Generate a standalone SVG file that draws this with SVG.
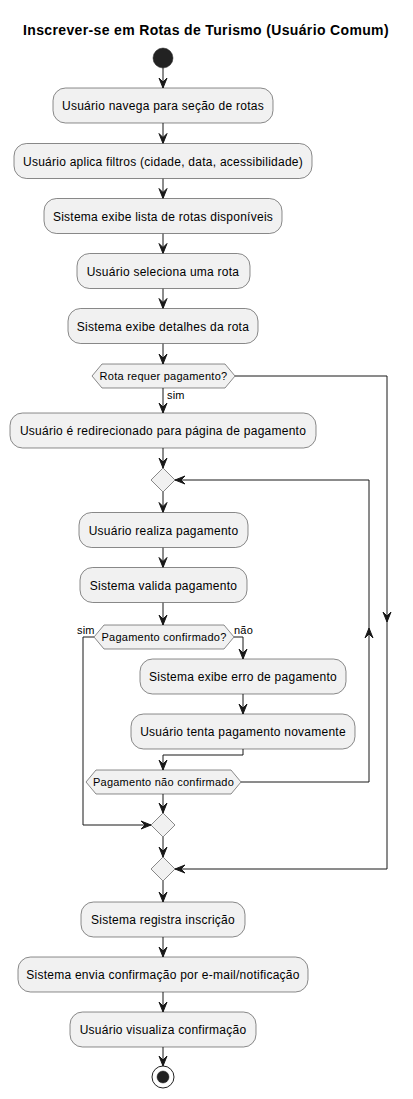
<svg xmlns="http://www.w3.org/2000/svg" width="413" height="1099" viewBox="0 0 413 1099">
<style>
.bg{fill:#FFFFFF}
.box{fill:#F1F1F1;stroke:#181818;stroke-width:0.5}
.t{font-family:"Liberation Sans",Arial,sans-serif;font-size:12px;letter-spacing:0.25px;fill:#000000;text-anchor:middle}
.ht{font-family:"Liberation Sans",Arial,sans-serif;font-size:11px;letter-spacing:0.25px;fill:#000000;text-anchor:middle}
.lbl{font-family:"Liberation Sans",Arial,sans-serif;font-size:11px;letter-spacing:0.2px;fill:#000000}
.title{font-family:"Liberation Sans",Arial,sans-serif;font-size:14px;font-weight:bold;letter-spacing:0.35px;fill:#000000;text-anchor:middle}
.ln{fill:none;stroke:#181818;stroke-width:1}
.ar{fill:none;stroke:#181818;stroke-width:1;marker-end:url(#ah)}
</style>
<defs>
<marker id="ah" viewBox="-11 -5 12 10" refX="0" refY="0" markerWidth="12" markerHeight="10" markerUnits="userSpaceOnUse" orient="auto">
<path d="M0,0 L-10,-4 L-6,0 L-10,4 Z" fill="#181818" stroke="#181818" stroke-width="1"/>
</marker>
</defs>
<rect class="bg" x="0" y="0" width="413" height="1099"/>
<text class="title" x="206" y="35">Inscrever-se em Rotas de Turismo (Usuário Comum)</text>

<g id="connectors">
<path class="ar" d="M163,68 V88"/>
<path class="ar" d="M163,123 V143.5"/>
<path class="ar" d="M163,178.5 V198.5"/>
<path class="ar" d="M163,233.5 V253.5"/>
<path class="ar" d="M163,288.5 V308.5"/>
<path class="ar" d="M163,343.5 V364"/>
<path class="ar" d="M163,388 V413"/>
<text class="lbl" x="167" y="399">sim</text>
<path class="ar" d="M163,448 V468"/>
<path class="ar" d="M163,492 V512.5"/>
<path class="ar" d="M163,547.5 V567.5"/>
<path class="ar" d="M163,602.5 V625"/>
<path class="ar" d="M94,637 H83 V825 H151"/>
<text class="lbl" x="77" y="634">sim</text>
<path class="ar" d="M234,637 H243 V659"/>
<text class="lbl" x="234" y="634">não</text>
<path class="ar" d="M243,694 V714"/>
<path class="ar" d="M243,749 V755 H163 V770"/>
<path class="ar" d="M163,794 V813"/>
<path class="ar" d="M163,837 V857"/>
<path class="ar" d="M241,782 H369 V628"/>
<path class="ar" d="M369,628 V480 H175"/>
<path class="ar" d="M235,376 H387 V622"/>
<path class="ar" d="M387,622 V869 H175"/>
<path class="ar" d="M163,881 V902"/>
<path class="ar" d="M163,937 V957"/>
<path class="ar" d="M163,992 V1012"/>
<path class="ar" d="M163,1047 V1066"/>
</g>

<g id="start"><circle cx="163" cy="58" r="10" fill="#222222" stroke="#222222" stroke-width="0.5"/></g>

<g id="n1"><rect class="box" x="53" y="88" width="220" height="35" rx="12.5"/><text class="t" x="163" y="110">Usuário navega para seção de rotas</text></g>
<g id="n2"><rect class="box" x="14" y="143.5" width="298" height="35" rx="12.5"/><text class="t" x="163" y="165.5">Usuário aplica filtros (cidade, data, acessibilidade)</text></g>
<g id="n3"><rect class="box" x="44" y="198.5" width="238" height="35" rx="12.5"/><text class="t" x="163" y="220.5">Sistema exibe lista de rotas disponíveis</text></g>
<g id="n4"><rect class="box" x="77" y="253.5" width="173" height="35" rx="12.5"/><text class="t" x="163" y="275.5">Usuário seleciona uma rota</text></g>
<g id="n5"><rect class="box" x="68" y="308.5" width="190" height="35" rx="12.5"/><text class="t" x="163" y="330.5">Sistema exibe detalhes da rota</text></g>

<g id="d1"><polygon class="box" points="92,376 102,364 225,364 235,376 225,388 102,388"/><text class="ht" x="163.5" y="380">Rota requer pagamento?</text></g>

<g id="n6"><rect class="box" x="10" y="413" width="306" height="35" rx="12.5"/><text class="t" x="163" y="435">Usuário é redirecionado para página de pagamento</text></g>

<g id="m1"><polygon class="box" points="163,468 175,480 163,492 151,480"/></g>

<g id="n7"><rect class="box" x="79" y="512.5" width="169" height="35" rx="12.5"/><text class="t" x="163.5" y="534.5">Usuário realiza pagamento</text></g>
<g id="n8"><rect class="box" x="80" y="567.5" width="167" height="35" rx="12.5"/><text class="t" x="163.5" y="589.5">Sistema valida pagamento</text></g>

<g id="d2"><polygon class="box" points="94,637 104,625 224,625 234,637 224,649 104,649"/><text class="ht" x="164" y="641">Pagamento confirmado?</text></g>

<g id="n9"><rect class="box" x="140" y="659" width="206" height="35" rx="12.5"/><text class="t" x="243" y="681">Sistema exibe erro de pagamento</text></g>
<g id="n10"><rect class="box" x="131" y="714" width="224" height="35" rx="12.5"/><text class="t" x="243" y="736">Usuário tenta pagamento novamente</text></g>

<g id="d3"><polygon class="box" points="86,782 96,770 231,770 241,782 231,794 96,794"/><text class="ht" x="163.5" y="786">Pagamento não confirmado</text></g>

<g id="m2"><polygon class="box" points="163,813 175,825 163,837 151,825"/></g>
<g id="m3"><polygon class="box" points="163,857 175,869 163,881 151,869"/></g>

<g id="n11"><rect class="box" x="81" y="902" width="164" height="35" rx="12.5"/><text class="t" x="163" y="924">Sistema registra inscrição</text></g>
<g id="n12"><rect class="box" x="18" y="957" width="290" height="35" rx="12.5"/><text class="t" x="163" y="979">Sistema envia confirmação por e-mail/notificação</text></g>
<g id="n13"><rect class="box" x="70" y="1012" width="186" height="35" rx="12.5"/><text class="t" x="163" y="1034">Usuário visualiza confirmação</text></g>

<g id="end"><circle cx="163" cy="1077" r="11" fill="none" stroke="#222222" stroke-width="1"/><circle cx="163" cy="1077" r="6" fill="#222222" stroke="#222222" stroke-width="0.5"/></g>
</svg>
